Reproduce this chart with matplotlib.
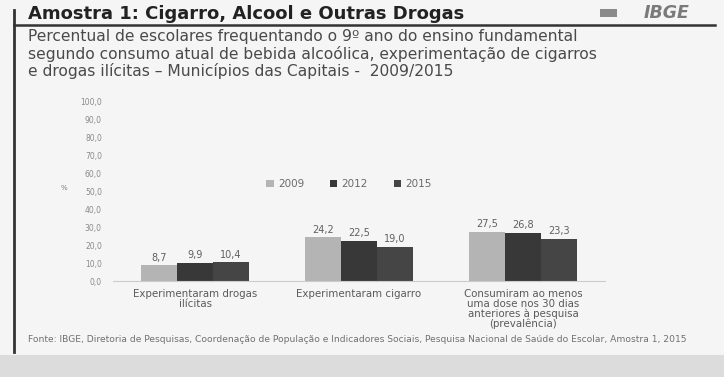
import matplotlib
matplotlib.use("Agg")
import matplotlib.pyplot as plt
import numpy as np
from matplotlib.patches import Rectangle

categories = ["Experimentaram drogas\nilícitas",
              "Experimentaram cigarro",
              "Consumiram ao menos\numa dose nos 30 dias\nanteriores à pesquisa\n(prevalência)"]
years = ["2009", "2012", "2015"]
v2009 = [8.7, 24.2, 27.5]
v2012 = [9.9, 22.5, 26.8]
v2015 = [10.4, 19.0, 23.3]
yticks = list(range(0, 101, 10))

subtitle_lines = ["Percentual de escolares frequentando o 9º ano do ensino fundamental",
                  "segundo consumo atual de bebida alcoólica, experimentação de cigarros",
                  "e drogas ilícitas – Municípios das Capitais -  2009/2015"]

colors = ["#b4b4b4", "#383838", "#454545"]
bg = "#f5f5f5"

fig = plt.figure(figsize=(7.24, 3.77), dpi=100, facecolor=bg)

# header
fig.text(28/724, 1 - 14/377, "Amostra 1: Cigarro, Alcool e Outras Drogas",
         fontsize=13, fontweight="bold", color="#222222", va="center", ha="left")
fig.text(690/724, 1 - 13/377, "IBGE", fontsize=12.5, fontweight="bold",
         style="italic", color="#7a7a7a", va="center", ha="right")
fig.add_artist(Rectangle((600/724, 1 - 17/377), 17/724, 8/377,
                         transform=fig.transFigure, color="#8a8a8a", lw=0))
fig.add_artist(plt.Line2D([14/724, 715/724], [1 - 25/377, 1 - 25/377],
                          transform=fig.transFigure, color="#333333", lw=1.8))
fig.add_artist(plt.Line2D([14/724, 14/724], [1 - 10/377, 1 - 352/377],
                          transform=fig.transFigure, color="#333333", lw=2))

for k, line in enumerate(subtitle_lines):
    fig.text(28/724, 1 - (37 + 16.8 * k)/377, line, fontsize=11.2,
             color="#4a4a4a", va="center", ha="left")

fig.text(28/724, 1 - 340/377,
         "Fonte: IBGE, Diretoria de Pesquisas, Coordenação de População e Indicadores Sociais, "
         "Pesquisa Nacional de Saúde do Escolar, Amostra 1, 2015",
         fontsize=6.6, color="#707070", va="center", ha="left")

fig.add_artist(Rectangle((0, 0), 1, 22/377, transform=fig.transFigure,
                         color="#dcdcdc", lw=0))

ax = fig.add_axes([113/724, 1 - 281/377, 492/724, 180/377])
ax.set_facecolor(bg)

x = np.arange(len(categories))
w = 0.22
for i, (vals, yr) in enumerate(zip([v2009, v2012, v2015], years)):
    bars = ax.bar(x + (i - 1) * w, vals, w, color=colors[i], label=yr)
    for b, v in zip(bars, vals):
        ax.text(b.get_x() + b.get_width() / 2, v + 1.5, f"{v:.1f}".replace(".", ","),
                ha="center", va="bottom", fontsize=7, color="#606060")

ax.set_xlim(-0.5, 2.5)
ax.set_ylim(0, 100)
ax.set_yticks(yticks)
ax.set_yticklabels([f"{t},0" for t in yticks], fontsize=5.5, color="#8a8a8a")
ax.set_xticks(x)
ax.set_xticklabels(categories, fontsize=7.4, color="#5a5a5a", linespacing=0.95)
ax.tick_params(axis="x", length=0, pad=6)
ax.tick_params(axis="y", length=0, pad=8)
for s in ["top", "right", "left"]:
    ax.spines[s].set_visible(False)
ax.spines["bottom"].set_color("#cccccc")
ax.set_ylabel("%", fontsize=5, color="#808080", rotation=0, labelpad=12)

ax.legend(loc="center", bbox_to_anchor=(0.48, 0.54), ncol=3, frameon=False,
          fontsize=7.5, handlelength=0.7, handleheight=0.7, columnspacing=2.5,
          handletextpad=0.4, labelcolor="#6a6a6a")

fig.savefig("out.png", dpi=100, facecolor=bg)
